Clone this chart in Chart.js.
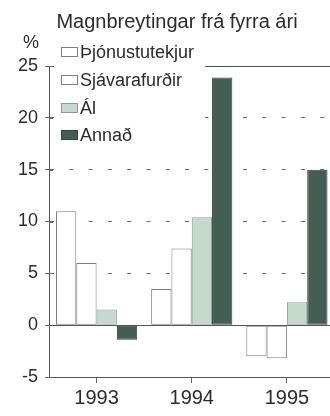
<!DOCTYPE html>
<html>
<head>
<meta charset="utf-8">
<script src="https://cdn.jsdelivr.net/npm/chart.js@4"></script>
<style>
  html, body { margin: 0; padding: 0; background: #fff; overflow: hidden; }
  #wrap { width: 330px; height: 416px; overflow: hidden; position: relative; }
  canvas { display: block; }
</style>
</head>
<body>
<div id="wrap"><canvas id="c" width="340" height="416"></canvas></div>
<script>
// Export volume changes from the previous year, %
const years = ['1993', '1994', '1995'];
const thjonustutekjur = [11.0, 3.5, -3.0];
const sjavarafurdir = [6.0, 7.4, -3.2];
const al = [1.5, 10.4, 2.2];
const annad = [-1.4, 23.9, 15.0];
const seriesNames = ['Þjónustutekjur', 'Sjávarafurðir', 'Ál', 'Annað'];
const yTicks = [-5, 0, 5, 10, 15, 20, 25];

const TEXT = '#2b2b2b';
const FONT = '"Liberation Sans", Arial, Helvetica, sans-serif';

// Title, unit label, solid zero / top lines and the boxed legend
const decorations = {
  id: 'decorations',
  beforeDatasetsDraw(chart) {
    const { ctx, chartArea } = chart;
    const y = chart.scales.y;
    ctx.save();
    ctx.strokeStyle = '#555';
    ctx.lineWidth = 1;
    // top frame line at the maximum
    const yt = Math.round(y.getPixelForValue(25)) + 0.5;
    ctx.beginPath();
    ctx.moveTo(chartArea.left, yt);
    ctx.lineTo(chartArea.right, yt);
    ctx.stroke();
    // inner tick marks on the value axis
    ctx.strokeStyle = '#666';
    yTicks.forEach(v => {
      const py = Math.round(y.getPixelForValue(v)) + 0.5;
      ctx.beginPath();
      ctx.moveTo(chartArea.left, py);
      ctx.lineTo(chartArea.left + 4, py);
      ctx.stroke();
    });
    ctx.restore();
  },
  afterDatasetsDraw(chart) {
    const { ctx, chartArea } = chart;
    const y = chart.scales.y;
    ctx.save();
    // zero line
    const y0 = Math.round(y.getPixelForValue(0)) + 0.5;
    ctx.strokeStyle = '#555';
    ctx.lineWidth = 1;
    ctx.beginPath();
    ctx.moveTo(chartArea.left, y0);
    ctx.lineTo(chartArea.right, y0);
    ctx.stroke();

    // legend panel
    ctx.fillStyle = '#fff';
    ctx.fillRect(54, 38, 151, 118);
    const rows = [52, 80, 108, 135];
    ctx.font = '18px ' + FONT;
    ctx.textBaseline = 'middle';
    ctx.textAlign = 'left';
    chart.data.datasets.forEach((ds, i) => {
      const cy = rows[i];
      ctx.fillStyle = ds.backgroundColor;
      ctx.fillRect(61, cy - 5, 17, 10);
      ctx.strokeStyle = ds.borderColor;
      ctx.lineWidth = 1;
      ctx.strokeRect(61.5, cy - 4.5, 16, 9);
      ctx.fillStyle = TEXT;
      ctx.fillText(ds.label, 80, cy + 1);
    });

    // title and unit
    ctx.textAlign = 'center';
    ctx.textBaseline = 'alphabetic';
    ctx.font = '20px ' + FONT;
    ctx.fillText('Magnbreytingar frá fyrra ári', 177, 28);
    ctx.font = '18px ' + FONT;
    ctx.fillText('%', 31, 48);
    ctx.restore();
  }
};

new Chart(document.getElementById('c'), {
  type: 'bar',
  data: {
    labels: years,
    datasets: [
      { label: seriesNames[0], data: thjonustutekjur, backgroundColor: '#ffffff', borderColor: '#7d7d7d' },
      { label: seriesNames[1], data: sjavarafurdir, backgroundColor: '#ffffff', borderColor: '#7d7d7d' },
      { label: seriesNames[2], data: al, backgroundColor: '#c6d9cd', borderColor: '#8c9c92' },
      { label: seriesNames[3], data: annad, backgroundColor: '#435e53', borderColor: '#2f443b' }
    ]
  },
  options: {
    responsive: false,
    animation: false,
    devicePixelRatio: 1,
    layout: { padding: { top: 66, right: 5.5, left: 0, bottom: 0 } },
    datasets: {
      bar: { categoryPercentage: 0.853, barPercentage: 1, borderWidth: 1, borderSkipped: false }
    },
    plugins: { legend: { display: false }, tooltip: { enabled: false }, title: { display: false } },
    scales: {
      x: {
        grid: { display: true, drawOnChartArea: false, offset: false, tickLength: 6, tickColor: '#666' },
        border: { display: true, color: '#555', width: 1 },
        ticks: { color: TEXT, font: { family: FONT, size: 20 }, padding: 3, maxRotation: 0 },
        afterFit(scale) { scale.height = 39; }
      },
      y: {
        min: -5, max: 25,
        afterBuildTicks(scale) { scale.ticks = yTicks.map(v => ({ value: v })); },
        grid: {
          color(ctx) {
            const v = ctx.tick && ctx.tick.value;
            return (v === 0 || v === -5 || v === 25) ? 'rgba(0,0,0,0)' : '#6a6a6a';
          },
          tickColor: '#666',
          tickLength: 4,
          tickBorderDash: [],
          lineWidth: 1
        },
        border: { display: true, color: '#555', width: 1, dash: [4, 15.3] },
        ticks: { color: TEXT, font: { family: FONT, size: 18 }, padding: 7 },
        afterFit(scale) { scale.width = 49; }
      }
    }
  },
  plugins: [decorations]
});
</script>
</body>
</html>
